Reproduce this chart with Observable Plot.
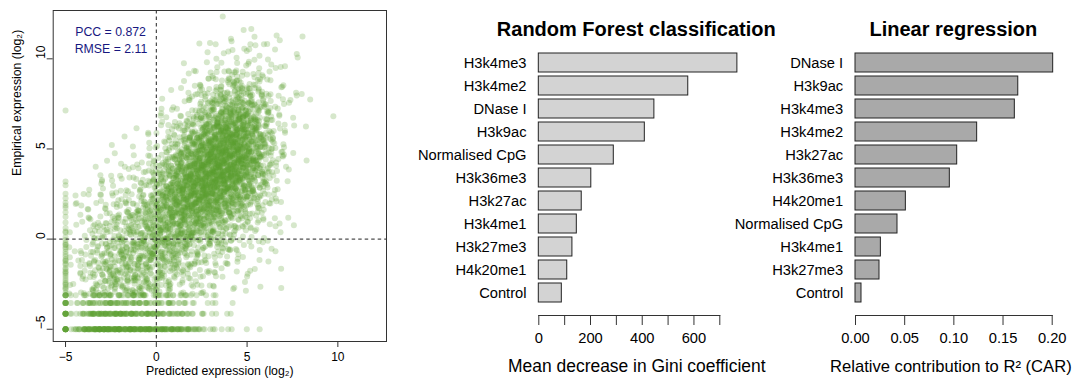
<!DOCTYPE html>
<html>
<head>
<meta charset="utf-8">
<script src="https://cdn.jsdelivr.net/npm/d3@7"></script>
<script src="https://cdn.jsdelivr.net/npm/@observablehq/plot@0.6"></script>
<style>
  body { margin: 0; background: #fff; }
  #fig { position: relative; width: 1078px; height: 383px; overflow: hidden; background: #fff; }
  #fig > svg { position: absolute; top: 0; }
</style>
</head>
<body>
<div id="fig"></div>
<script>
// ---------------- Scatter: predicted vs empirical expression ----------------
// Point counts per 1x1 cell of the main cloud; one array per x bin (lower edges
// in cloudXEdges), entries run over the y bins whose lower edges are cloudYEdges.
const cloudXEdges = [-5, -4, -3, -2, -1, 0, 1, 2, 3, 4, 5, 6, 7, 8, 9];
const cloudYEdges = [-3, -2, -1, 0, 1, 2, 3, 4, 5, 6, 7, 8, 9, 10, 11];
const cloudCounts = [
  [4, 3, 3, 2, 2, 2, 0, 0, 0, 0, 0, 0, 0, 0, 0],
  [18, 18, 15, 12, 8, 5, 3, 0, 0, 0, 0, 0, 0, 0, 0],
  [30, 30, 27, 20, 12, 8, 4, 2, 0, 0, 0, 0, 0, 0, 0],
  [32, 36, 32, 28, 20, 12, 7, 4, 2, 0, 0, 0, 0, 0, 0],
  [28, 38, 42, 40, 32, 22, 11, 5, 3, 2, 0, 0, 0, 0, 0],
  [20, 30, 44, 56, 60, 56, 40, 20, 10, 5, 3, 0, 0, 0, 0],
  [12, 20, 36, 56, 80, 92, 82, 56, 30, 14, 7, 3, 1, 0, 0],
  [8, 12, 22, 44, 74, 105, 115, 98, 68, 38, 19, 9, 4, 2, 0],
  [5, 8, 15, 30, 58, 92, 122, 122, 105, 72, 38, 18, 7, 3, 1],
  [3, 5, 8, 16, 34, 62, 94, 110, 106, 84, 54, 26, 11, 5, 2],
  [2, 3, 4, 8, 16, 28, 46, 58, 58, 48, 34, 17, 7, 4, 2],
  [1, 2, 2, 3, 5, 8, 11, 13, 13, 11, 9, 5, 4, 2, 2],
  [0, 0, 0, 1, 0, 0, 0, 2, 2, 3, 3, 3, 2, 1, 0],
  [0, 0, 0, 0, 0, 0, 0, 0, 0, 0, 1, 0, 0, 0, 1],
  [0, 0, 0, 0, 0, 0, 0, 0, 0, 0, 1, 0, 0, 0, 0]
];
// Genes with (near-)zero empirical expression sit on discrete floor levels.
const floorLevels = [-5, -4.14, -3.55, -3.12];
const floorXEdges = [-5, -4, -3, -2, -1, 0, 1, 2, 3, 4, 5];
const floorCounts = [
  [6, 45, 45, 40, 36, 30, 22, 9, 3, 2, 1],
  [4, 26, 30, 26, 22, 15, 11, 5, 2, 1, 0],
  [3, 15, 18, 15, 15, 9, 7, 3, 1, 1, 0],
  [3, 11, 13, 13, 11, 9, 7, 3, 1, 0, 0]
];
// Genes with the minimum prediction (x = -5): counts on each floor level and per y bin.
const edgeX = -5;
const edgeLevelCounts = [12, 10, 8, 6];
const edgeYEdges = [-3, -2, -1, 0, 1, 2, 3, 7];
const edgeCounts = [10, 10, 9, 5, 4, 4, 1, 1];

const pcc = 0.872;
const rmse = 2.11;
const scatterTicks = [-5, 0, 5, 10];
const scatterDomain = [-5.68, 12.68];

// ---------------- Variable importance ----------------
const rfNames = ["H3k4me3", "H3k4me2", "DNase I", "H3k9ac", "Normalised CpG", "H3k36me3",
                 "H3k27ac", "H3k4me1", "H3k27me3", "H4k20me1", "Control"];
const rfValues = [768, 578, 447, 410, 290, 203, 166, 147, 130, 110, 89];
const rfTicks = [0, 100, 200, 300, 400, 500, 600, 700];

const lrNames = ["DNase I", "H3k9ac", "H3k4me3", "H3k4me2", "H3k27ac", "H3k36me3",
                 "H4k20me1", "Normalised CpG", "H3k4me1", "H3k27me3", "Control"];
const lrValues = [0.201, 0.1655, 0.162, 0.1237, 0.1034, 0.0959, 0.0512, 0.0427, 0.0258, 0.0244, 0.0061];
const lrTicks = [0, 0.05, 0.10, 0.15, 0.20];

// ---------------- build point table ----------------
// Points inside a cell are spread with a Halton layout and a triangular kernel
// so that neighbouring cells blend smoothly.
function radicalInverse(i, base) {
  let f = 1, r = 0;
  while (i > 0) { f /= base; r += f * (i % base); i = Math.floor(i / base); }
  return r;
}
let seqIndex = 0;
function spread() {
  seqIndex++;
  return [2, 3, 5, 7].map(b => radicalInverse(seqIndex, b));
}
const points = [];
cloudCounts.forEach((col, i) => {
  col.forEach((n, j) => {
    for (let m = 0; m < n; m++) {
      const [u1, u2, u3, u4] = spread();
      let x = cloudXEdges[i] + u1 + u3 - 0.5;
      let y = cloudYEdges[j] + u2 + u4 - 0.5;
      if (y < -3.05) y = -6.1 - y;
      if (x < -4.8) x = -9.6 - x;
      points.push({x, y});
    }
  });
});
floorCounts.forEach((row, li) => {
  row.forEach((n, i) => {
    for (let m = 0; m < n; m++) {
      const [u1, u2] = spread();
      let x = floorXEdges[i] + u1 + u2 - 0.5;
      if (x < -4.75) x = -9.5 - x;
      points.push({x, y: floorLevels[li]});
    }
  });
  for (let m = 0; m < edgeLevelCounts[li]; m++) points.push({x: edgeX, y: floorLevels[li]});
});
edgeCounts.forEach((n, j) => {
  for (let m = 0; m < n; m++) {
    const [u1] = spread();
    points.push({x: edgeX, y: edgeYEdges[j] + (j === 6 ? 0.25 * u1 : u1)});
  }
});

// ---------------- drawing ----------------
const fontFamily = '"Liberation Sans", Arial, Helvetica, sans-serif';
const green = "#5da12e";
const navy = "#17177f";
const axisInk = "#333";
const minus = d => (d < 0 ? "\u2212" + (-d) : String(d));

const baseStyle = {background: "transparent", overflow: "visible", fontFamily, color: "#000"};

const scatter = Plot.plot({
  width: 400, height: 383,
  marginLeft: 52.7, marginRight: 14, marginTop: 10, marginBottom: 42,
  style: {...baseStyle, fontSize: "12px"},
  x: {domain: scatterDomain},
  y: {domain: scatterDomain},
  marks: [
    Plot.dot(points, {x: "x", y: "y", r: 3, fill: green, fillOpacity: 0.25}),
    Plot.ruleX([0], {stroke: "#222", strokeDasharray: "3.5,3"}),
    Plot.ruleY([0], {stroke: "#222", strokeDasharray: "3.5,3"}),
    Plot.frame({stroke: axisInk}),
    Plot.axisX(scatterTicks, {tickSize: 6, tickPadding: 4.5, tickFormat: minus, label: null, stroke: axisInk}),
    Plot.axisY(scatterTicks, {tickSize: 6, tickFormat: () => "", label: null, stroke: axisInk}),
    Plot.text(scatterTicks, {y: d => d, text: minus, frameAnchor: "left", dx: -12.5, rotate: -90}),
    Plot.text(["Predicted expression (log\u2082)"], {frameAnchor: "bottom", dy: 33, fontSize: 12.3}),
    Plot.text(["Empirical expression (log\u2082)"], {frameAnchor: "left", dx: -36, rotate: -90, fontSize: 12.3}),
    Plot.text([`PCC = ${pcc}`], {frameAnchor: "top-left", dx: 22, dy: 17, textAnchor: "start", fill: navy, fontSize: 12.3}),
    Plot.text([`RMSE = ${rmse}`], {frameAnchor: "top-left", dx: 21.5, dy: 34, textAnchor: "start", fill: navy, fontSize: 12.3})
  ]
});

function importance({names, values, ticks, tickFormat, width, marginLeft, marginRight, fill, title, xLabel, titleDx, labelDx, labelSize}) {
  const data = names.map((name, i) => ({name, value: values[i]}));
  return Plot.plot({
    width, height: 383,
    marginLeft, marginRight, marginTop: 49.5, marginBottom: 68,
    style: {...baseStyle, fontSize: "14.7px"},
    x: {domain: [ticks[0], ticks[ticks.length - 1]]},
    y: {domain: names, range: [49.5, 306.4], paddingInner: 0.17, paddingOuter: 0.085},
    marks: [
      Plot.barX(data, {x: "value", y: "name", fill, stroke: "#222", strokeWidth: 1}),
      Plot.frame({anchor: "bottom", stroke: axisInk}),
      Plot.axisX(ticks, {tickSize: 10, tickPadding: 6.7, tickFormat, label: null, stroke: axisInk}),
      Plot.axisY({tickSize: 0, tickPadding: 12.3, label: null}),
      Plot.text([title], {frameAnchor: "top", dx: titleDx, dy: -28.4, fontSize: 20, fontWeight: "bold"}),
      Plot.text([xLabel], {frameAnchor: "bottom", dx: labelDx, dy: 56.2, fontSize: labelSize})
    ]
  });
}

const rf = importance({
  names: rfNames, values: rfValues, ticks: rfTicks,
  tickFormat: d => (d % 200 === 0 ? String(d) : ""),
  width: 360, marginLeft: 138.3, marginRight: 40.7, fill: "#d3d3d3",
  title: "Random Forest classification", xLabel: "Mean decrease in Gini coefficient",
  titleDx: 7, labelDx: 7.5, labelSize: 17.45
});

const lr = importance({
  names: lrNames, values: lrValues, ticks: lrTicks,
  tickFormat: d3.format(".2f"),
  width: 358, marginLeft: 135, marginRight: 26.3, fill: "#a9a9a9",
  title: "Linear regression", xLabel: "Relative contribution to R\u00b2 (CAR)",
  titleDx: -0.5, labelDx: -3, labelSize: 16.6
});

const fig = document.getElementById("fig");
[[scatter, 0], [rf, 400], [lr, 720]].forEach(([svg, left]) => {
  svg.style.left = left + "px";
  svg.style.maxWidth = "none";
  fig.appendChild(svg);
});
</script>
</body>
</html>
